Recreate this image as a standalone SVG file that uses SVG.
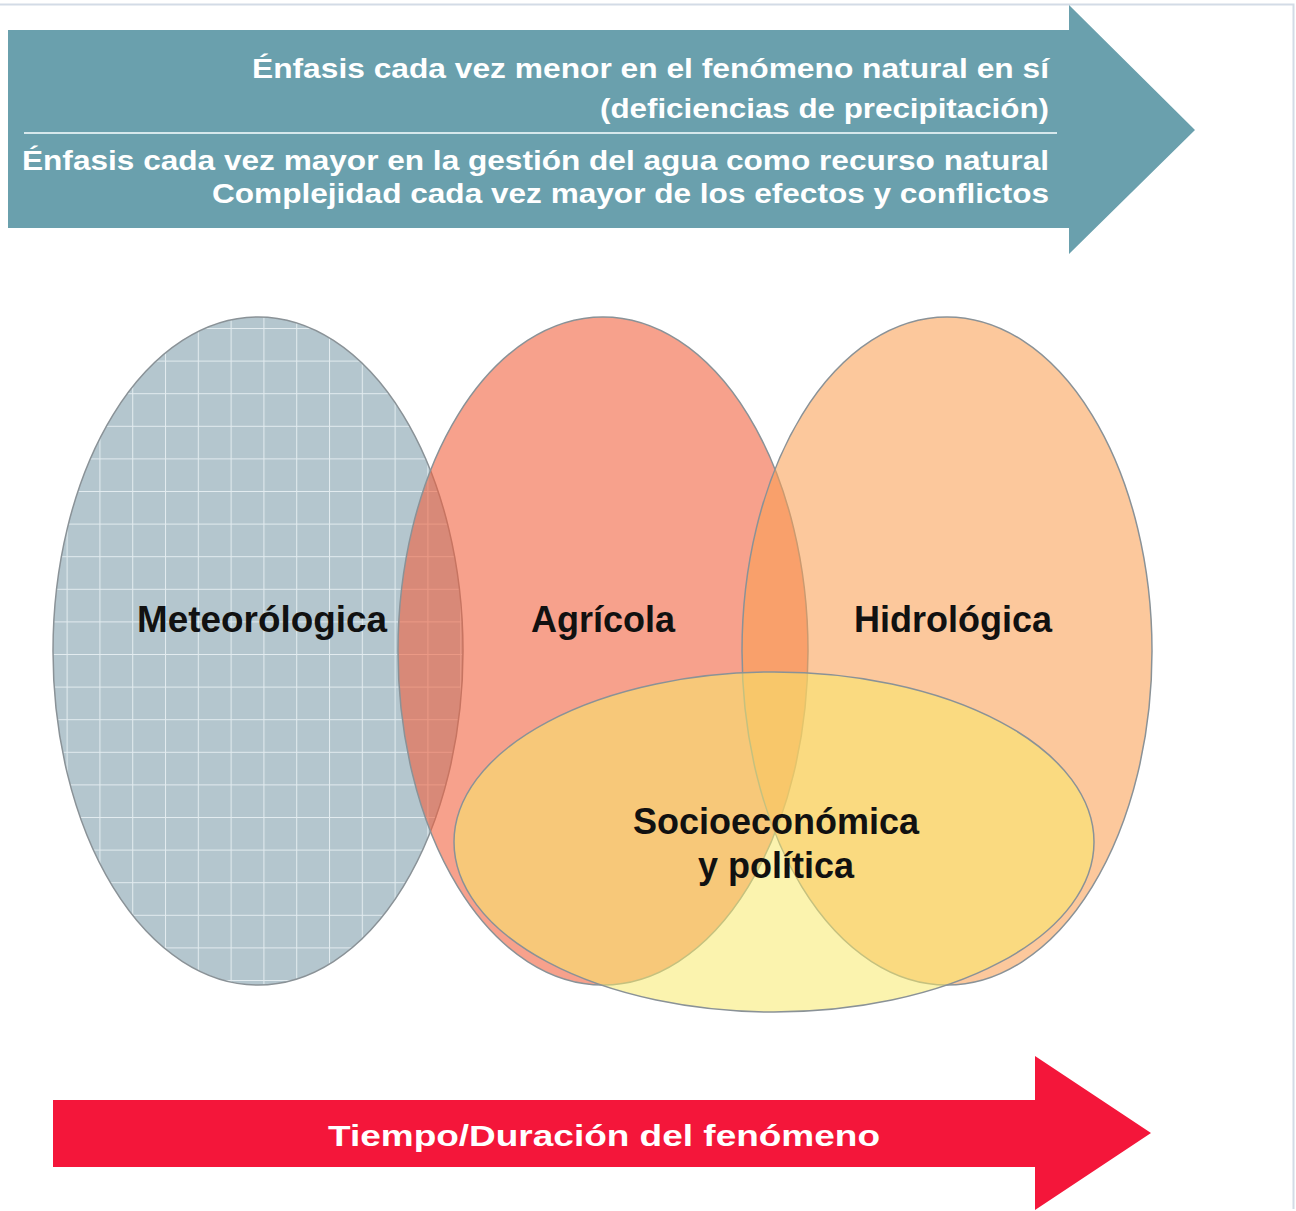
<svg xmlns="http://www.w3.org/2000/svg" width="1296" height="1211" viewBox="0 0 1296 1211">
<style>
.lbl{font-family:"Liberation Sans",Arial,sans-serif;font-weight:bold;fill:#111;font-size:36px;text-anchor:middle}
.wt{font-family:"Liberation Sans",Arial,sans-serif;font-weight:bold;fill:#fff}
.ell{stroke:#8a9297;stroke-width:1.5}
</style>
<defs>
<pattern id="grid" x="1" y="2" width="32.8" height="32.6" patternUnits="userSpaceOnUse">
<rect width="32.8" height="32.6" fill="#b4c6ce"/>
<path d="M0 0.5H32.8M0.5 0V32.6" stroke="#e2ebef" stroke-width="1.1" fill="none"/>
</pattern>
</defs>
<rect x="0" y="0" width="1296" height="1211" fill="#fff"/>
<path d="M0 4.5H1293.5V1209" fill="none" stroke="#d3dbe6" stroke-width="2"/>

<g id="top-arrow">
<polygon points="8,30 1069,30 1069,5 1195,130 1069,254 1069,228 8,228" fill="#6aa0ad"/>
<line x1="24" y1="133" x2="1057" y2="133" stroke="#d6e8ec" stroke-width="2"/>
<text class="wt" x="1049" y="78" font-size="27" text-anchor="end" textLength="797" lengthAdjust="spacingAndGlyphs">Énfasis cada vez menor en el fenómeno natural en sí</text>
<text class="wt" x="1049" y="118" font-size="27" text-anchor="end" textLength="449" lengthAdjust="spacingAndGlyphs">(deficiencias de precipitación)</text>
<text class="wt" x="1049" y="170" font-size="27" text-anchor="end" textLength="1027" lengthAdjust="spacingAndGlyphs">Énfasis cada vez mayor en la gestión del agua como recurso natural</text>
<text class="wt" x="1049" y="203" font-size="27" text-anchor="end" textLength="837" lengthAdjust="spacingAndGlyphs">Complejidad cada vez mayor de los efectos y conflictos</text>
</g>

<g id="meteorologica">
<ellipse class="ell" cx="258" cy="651" rx="205" ry="334" fill="url(#grid)"/>
</g>
<g id="agricola">
<ellipse class="ell" cx="603" cy="651" rx="205" ry="334" fill="rgb(241,96,60)" fill-opacity="0.59"/>
</g>
<g id="hidrologica">
<ellipse class="ell" cx="947" cy="651" rx="205" ry="334" fill="rgb(250,159,83)" fill-opacity="0.575"/>
</g>
<g id="socioeconomica">
<ellipse class="ell" cx="774" cy="842" rx="320" ry="170" fill="rgb(248,232,106)" fill-opacity="0.54" stroke="#7f878d"/>
</g>

<g id="labels">
<text class="lbl" x="262" y="632" textLength="250" lengthAdjust="spacingAndGlyphs">Meteorólogica</text>
<text class="lbl" x="603" y="632">Agrícola</text>
<text class="lbl" x="953" y="632">Hidrológica</text>
<text class="lbl" x="776" y="834">Socioeconómica</text>
<text class="lbl" x="776" y="878">y política</text>
</g>

<g id="bottom-arrow">
<polygon points="53,1100 1035,1100 1035,1056 1151,1133 1035,1210 1035,1167 53,1167" fill="#f4163a"/>
<text class="wt" x="604" y="1146" font-size="30" text-anchor="middle" textLength="552" lengthAdjust="spacingAndGlyphs">Tiempo/Duración del fenómeno</text>
</g>
<g id="connectors"/>
</svg>
